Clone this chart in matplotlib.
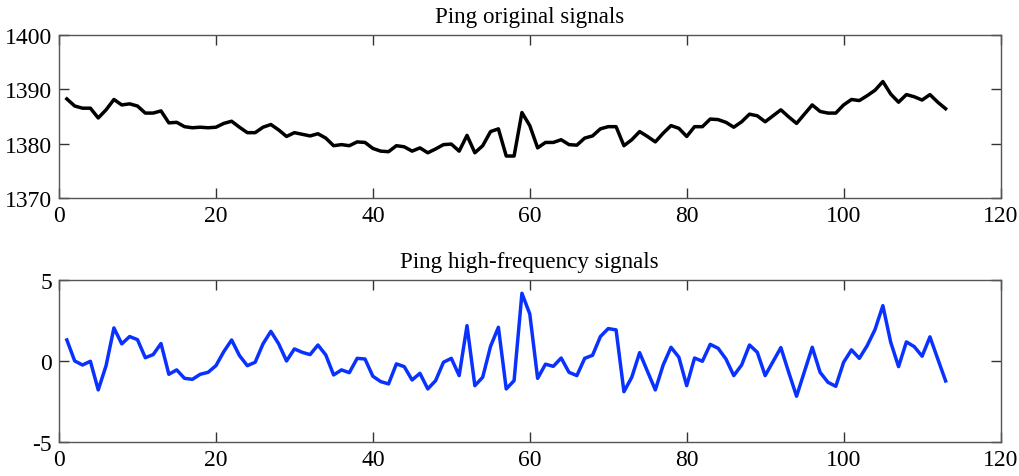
import matplotlib
matplotlib.use('Agg')
import matplotlib.pyplot as plt
import numpy as np

plt.rcParams['font.family'] = ['Liberation Serif', 'DejaVu Serif']
plt.rcParams['axes.unicode_minus'] = False

# sample index 1..113
samples = list(range(1, 114))

original = [
    1388.2, 1386.9, 1386.5, 1386.5, 1384.7, 1386.2, 1388.1, 1387.1, 1387.3, 1386.9,
    1385.6, 1385.6, 1386.0, 1383.8, 1383.9, 1383.1, 1382.9, 1383.0, 1382.9, 1383.0,
    1383.7, 1384.1, 1383.0, 1382.0, 1382.0, 1383.0, 1383.5, 1382.5, 1381.3, 1382.0,
    1381.7, 1381.4, 1381.8, 1381.0, 1379.6, 1379.8, 1379.6, 1380.3, 1380.2, 1379.1,
    1378.6, 1378.5, 1379.6, 1379.4, 1378.6, 1379.2, 1378.3, 1379.0, 1379.8, 1379.9,
    1378.6, 1381.5, 1378.3, 1379.6, 1382.2, 1382.7, 1377.7, 1377.7, 1385.7, 1383.3,
    1379.2, 1380.2, 1380.2, 1380.7, 1379.8, 1379.7, 1381.0, 1381.4, 1382.7, 1383.1,
    1383.1, 1379.6, 1380.7, 1382.2, 1381.3, 1380.3, 1381.9, 1383.3, 1382.8, 1381.3,
    1383.1, 1383.1, 1384.5, 1384.4, 1383.9, 1383.0, 1384.0, 1385.4, 1385.1, 1384.0,
    1385.1, 1386.2, 1384.9, 1383.7, 1385.4, 1387.1, 1385.9, 1385.6, 1385.6, 1387.1,
    1388.1, 1387.9, 1388.8, 1389.8, 1391.4, 1389.1, 1387.6, 1389.0, 1388.6, 1388.0,
    1389.0, 1387.6, 1386.4,
]

high_freq = [
    1.29, 0.00, -0.25, -0.02, -1.78, -0.29, 2.03, 1.05, 1.50, 1.31,
    0.20, 0.39, 1.07, -0.82, -0.55, -1.07, -1.13, -0.82, -0.70, -0.29,
    0.57, 1.29, 0.33, -0.29, -0.08, 1.05, 1.82, 1.05, 0.00, 0.74,
    0.53, 0.39, 0.98, 0.37, -0.86, -0.55, -0.72, 0.16, 0.12, -0.94,
    -1.27, -1.41, -0.18, -0.35, -1.17, -0.76, -1.72, -1.21, -0.08, 0.16,
    -0.90, 2.17, -1.52, -1.00, 0.90, 2.07, -1.72, -1.21, 4.16, 2.89,
    -1.07, -0.20, -0.33, 0.18, -0.70, -0.90, 0.16, 0.35, 1.50, 1.99,
    1.91, -1.89, -1.00, 0.51, -0.64, -1.78, -0.25, 0.84, 0.23, -1.52,
    0.18, -0.02, 1.02, 0.78, 0.12, -0.90, -0.25, 0.98, 0.53, -0.90,
    -0.04, 0.82, -0.70, -2.17, -0.66, 0.84, -0.70, -1.31, -1.56, -0.08,
    0.68, 0.16, 0.94, 1.93, 3.40, 1.15, -0.35, 1.17, 0.88, 0.29,
    1.48, 0.12, -1.23,
]

x_ticks = [0, 20, 40, 60, 80, 100, 120]


def style_axis(ax):
    for s in ax.spines.values():
        s.set_color('#555555')
        s.set_linewidth(1.0)
    ax.tick_params(direction='in', length=7, width=1.0, color='#333333',
                   top=True, right=True, labelsize=17, pad=5)
    ax.set_xlim(0, 120)
    ax.set_xticks(x_ticks)


fig = plt.figure(figsize=(10.19, 4.77), dpi=100)

ax1 = fig.add_axes([0.0579, 0.583, 0.924, 0.342])
ax1.plot(samples, original, color='black', lw=2.5)
style_axis(ax1)
ax1.set_ylim(1370, 1400)
ax1.set_yticks([1370, 1380, 1390, 1400])
ax1.set_title('Ping original signals', fontsize=16.6, pad=9)

ax2 = fig.add_axes([0.0579, 0.0707, 0.924, 0.341])
ax2.plot(samples, high_freq, color='#0a32ff', lw=2.5)
style_axis(ax2)
ax2.set_ylim(-5, 5)
ax2.set_yticks([-5, 0, 5])
ax2.set_title('Ping high-frequency signals', fontsize=16.6, pad=9)

fig.savefig('out.png', dpi=100)
